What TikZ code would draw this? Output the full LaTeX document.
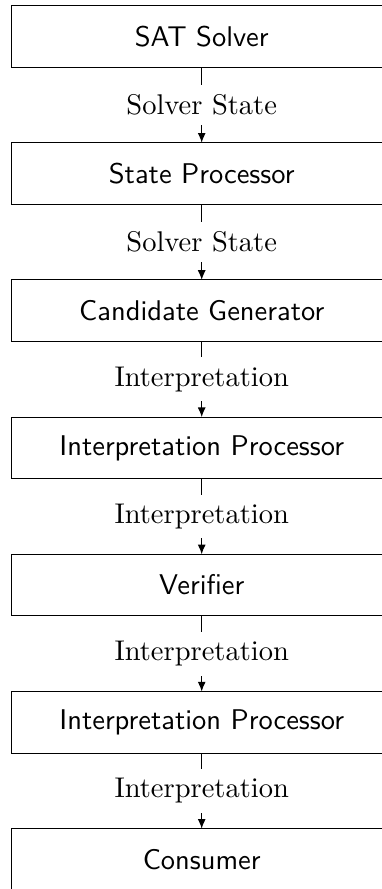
\documentclass[tikz,border=0pt]{standalone}
\usetikzlibrary{arrows.meta}
\begin{document}
\begin{tikzpicture}[x=0.35088pt, y=-0.35088pt,
  box/.style={line width=0.4pt, minimum width=132.8pt, minimum height=21.2pt, font=\sffamily, inner sep=0pt},
  frame/.style={line width=0.4pt},
  flow/.style={-{Latex[length=3.4pt,width=2.8pt]}, line width=0.4pt},
  lab/.style={fill=white, inner sep=3.33pt}]
\useasboundingbox (0,0) rectangle (382,889);
\coordinate (edge) at (382,0);
\begin{scope}[overlay]
\node[box] (b0) at (201.7,36.3) {SAT Solver};
\node[box] (b1) at (201.7,173.5) {State Processor};
\node[box] (b2) at (201.7,310.7) {Candidate Generator};
\node[box] (b3) at (201.7,447.9) {Interpretation Processor};
\node[box] (b4) at (201.7,585.1) {Verifier};
\node[box] (b5) at (201.7,722.3) {Interpretation Processor};
\node[box] (b6) at (201.7,859.5) {Consumer};
\foreach \b in {b0,b1,b2,b3,b4,b5,b6}
  \draw[frame] (\b.north -| edge) -- (\b.north west) -- (\b.south west) -- (\b.south -| edge);
\draw[flow] (b0) -- node[lab] {Solver State} (b1);
\draw[flow] (b1) -- node[lab] {Solver State} (b2);
\draw[flow] (b2) -- node[lab] {Interpretation} (b3);
\draw[flow] (b3) -- node[lab] {Interpretation} (b4);
\draw[flow] (b4) -- node[lab] {Interpretation} (b5);
\draw[flow] (b5) -- node[lab] {Interpretation} (b6);
\end{scope}
\end{tikzpicture}
\end{document}
